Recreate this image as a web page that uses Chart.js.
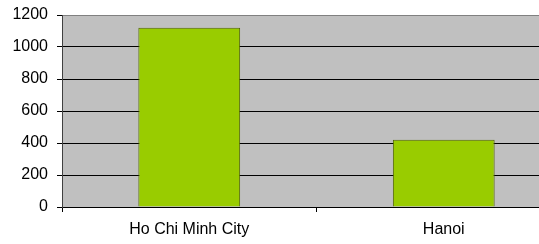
<!DOCTYPE html>
<html>
<head>
<meta charset="utf-8">
<script src="https://cdn.jsdelivr.net/npm/chart.js@4/dist/chart.umd.min.js"></script>
<style>
  html, body { margin: 0; padding: 0; background: #fff; overflow: hidden; }
  #wrap { width: 575px; height: 244px; }
</style>
</head>
<body>
<div id="wrap"><canvas id="myChart" width="575" height="244"></canvas></div>
<script>
const cities = ['Ho Chi Minh City', 'Hanoi'];
const values = [1120, 420];
const yTicks = [0, 200, 400, 600, 800, 1000, 1200];

// grey plot area behind the bars
const plotBg = {
  id: 'plotBg',
  beforeDraw(chart) {
    const a = chart.chartArea;
    const c = chart.ctx;
    c.save();
    c.fillStyle = '#C0C0C0';
    c.fillRect(a.left, a.top, a.right - a.left, a.bottom - a.top);
    c.restore();
  }
};

const ctx = document.getElementById('myChart').getContext('2d');
const myChart = new Chart(ctx, {
  type: 'bar',
  data: {
    labels: cities,
    datasets: [{
      data: values,
      backgroundColor: '#99CC00',
      borderColor: '#4F6300',
      borderWidth: 1,
      barPercentage: 0.4,
      categoryPercentage: 1
    }]
  },
  options: {
    responsive: false,
    animation: false,
    layout: { padding: { top: 15, right: 4, left: 0, bottom: 0 } },
    plugins: { legend: { display: false }, tooltip: { enabled: false } },
    scales: {
      x: {
        grid: { offset: true, drawOnChartArea: false, tickLength: 5, tickColor: '#000' },
        border: { color: '#000' },
        ticks: { color: '#000', padding: 8, font: { family: 'Liberation Sans', size: 16 } },
        afterFit(scale) { scale.height = 37; }
      },
      y: {
        min: 0,
        max: 1200,
        afterBuildTicks(scale) { scale.ticks = yTicks.map(v => ({ value: v })); },
        grid: {
          color: c => (c.tick && c.tick.value === 1200 ? '#808080' : '#000'),
          tickColor: '#000',
          tickLength: 5
        },
        border: { color: '#404040' },
        ticks: { color: '#000', padding: 9, font: { family: 'Liberation Sans', size: 16 }, callback: v => String(v) },
        afterFit(scale) {
          scale.width = 62;
          // keep the plot top at 15px, labels may overhang
          scale.paddingTop = 0;
          scale.paddingBottom = 0;
        }
      }
    }
  },
  plugins: [plotBg]
});
</script>
</body>
</html>
